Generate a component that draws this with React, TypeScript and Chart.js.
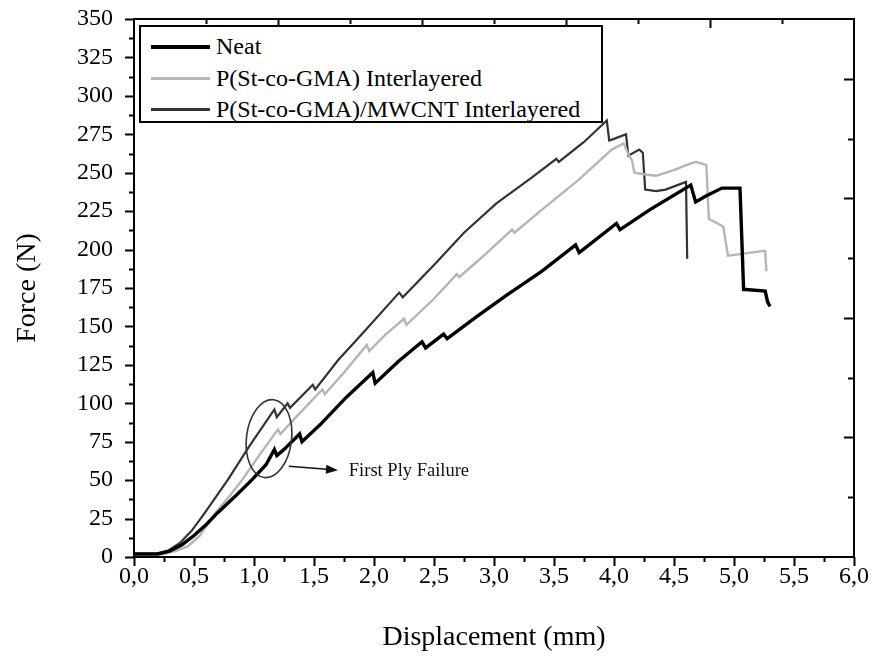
import React, { useEffect, useRef } from 'react';
import { Chart, registerables } from 'chart.js';

Chart.register(...registerables);

const FONT = "'Liberation Serif', 'Times New Roman', Times, serif";

// axes
const X_MIN = 0;
const X_MAX = 6;
const X_STEP = 0.5;
const Y_MIN = 0;
const Y_MAX = 350;
const Y_STEP = 25;
const TOP_DIVS = 10;
const RIGHT_DIVS = 9;

const X_TITLE = 'Displacement (mm)';
const Y_TITLE = 'Force (N)';

// series: Neat
const neatX = [0, 0.2, 0.3, 0.4, 0.5, 0.6, 0.7, 0.85, 0.98, 1.1, 1.17, 1.19, 1.25, 1.38, 1.4, 1.55, 1.77, 1.99, 2.01, 2.2, 2.4, 2.43, 2.58, 2.61, 2.85, 3.1, 3.4, 3.68, 3.71, 4.02, 4.05, 4.3, 4.64, 4.68, 4.77, 4.9, 5.05, 5.08, 5.1, 5.26, 5.28, 5.3];
const neatY = [2, 2, 4, 8, 14, 21, 29, 40, 50, 60, 70, 66, 70, 80, 75, 86, 104, 120, 113, 127, 140, 136, 145, 142, 156, 170, 186, 203, 198, 217, 213, 226, 242, 231, 235, 240, 240, 174, 174, 173, 166, 163];

// series: P(St-co-GMA)
const pstX = [0, 0.25, 0.35, 0.45, 0.55, 0.67, 0.8, 0.9, 1.07, 1.2, 1.22, 1.35, 1.57, 1.59, 1.75, 1.94, 1.96, 2.1, 2.25, 2.27, 2.5, 2.69, 2.71, 2.9, 3.15, 3.17, 3.4, 3.7, 3.98, 4.08, 4.12, 4.15, 4.17, 4.25, 4.35, 4.51, 4.6, 4.68, 4.73, 4.77, 4.79, 4.91, 4.95, 5.05, 5.14, 5.23, 5.26, 5.27];
const pstY = [2, 2, 4, 7, 14, 28, 40, 50, 69, 83, 80, 91, 109, 106, 120, 138, 134, 145, 155, 151, 168, 184, 182, 195, 213, 211, 226, 245, 265, 269, 262, 258, 250, 249, 248, 252, 255, 257, 256, 255, 220, 215, 196, 197, 198, 199, 199, 186];

// series: P(St-co-GMA)/MWCNT
const mwX = [0, 0.18, 0.28, 0.38, 0.48, 0.59, 0.78, 0.96, 1.17, 1.19, 1.28, 1.3, 1.49, 1.51, 1.7, 1.9, 2.21, 2.24, 2.5, 2.75, 3.02, 3.3, 3.52, 3.54, 3.75, 3.94, 3.96, 4.0, 4.1, 4.12, 4.21, 4.24, 4.26, 4.35, 4.43, 4.6, 4.61];
const mwY = [2, 2, 4, 9, 17, 28.7, 50, 72, 96, 91, 100, 97, 112, 109, 128, 145, 172, 169, 190, 211, 230, 246, 259, 257, 270, 284, 271, 272, 275, 261, 265, 263, 239, 238, 239, 244, 194];

const SERIES_LABELS = ['Neat', 'P(St-co-GMA) Interlayered', 'P(St-co-GMA)/MWCNT Interlayered'];
const SERIES_COLORS = ['#000000', '#b5b5b5', '#333333'];
const SERIES_WIDTHS = [3.4, 2.4, 2.2];
const SERIES_X = [neatX, pstX, mwX];
const SERIES_Y = [neatY, pstY, mwY];

// annotation (data units)
const ELLIPSE_CENTER = [1.125, 77];
const ELLIPSE_RADII = [0.188, 25.5];
const ARROW_FROM = [1.29, 59];
const ARROW_TO = [1.7, 56.5];
const NOTE_AT = [1.79, 56];
const NOTE_TEXT = 'First Ply Failure';

const fmtX = (v: number) => v.toFixed(1).replace('.', ',');

const framePlugin = {
  id: 'frameAndNotes',
  afterDraw(chart: any) {
    const { ctx, chartArea: a, scales } = chart;
    const xs = scales.x;
    const ys = scales.y;
    ctx.save();
    ctx.strokeStyle = '#000';
    ctx.lineWidth = 2;
    ctx.strokeRect(a.left, a.top, a.right - a.left, a.bottom - a.top);

    const xt = xs.ticks.map((t: any) => t.value);
    const yt = ys.ticks.map((t: any) => t.value);
    ctx.beginPath();
    // bottom major + minor (outward)
    xt.forEach((v: number, i: number) => {
      const px = Math.round(xs.getPixelForValue(v)) + 0.5;
      ctx.moveTo(px, a.bottom);
      ctx.lineTo(px, a.bottom + 9);
      if (i < xt.length - 1) {
        const mx = Math.round(xs.getPixelForValue((v + xt[i + 1]) / 2)) + 0.5;
        ctx.moveTo(mx, a.bottom);
        ctx.lineTo(mx, a.bottom + 5);
      }
    });
    // left major + minor (outward)
    yt.forEach((v: number, i: number) => {
      const py = Math.round(ys.getPixelForValue(v)) + 0.5;
      ctx.moveTo(a.left, py);
      ctx.lineTo(a.left - 9, py);
      if (i < yt.length - 1) {
        const my = Math.round(ys.getPixelForValue((v + yt[i + 1]) / 2)) + 0.5;
        ctx.moveTo(a.left, my);
        ctx.lineTo(a.left - 5, my);
      }
    });
    // top inward ticks
    for (let i = 1; i < TOP_DIVS; i++) {
      const px = Math.round(xs.getPixelForValue(xs.min + ((xs.max - xs.min) * i) / TOP_DIVS)) + 0.5;
      ctx.moveTo(px, a.top);
      ctx.lineTo(px, a.top + (i % 2 === 0 ? 9 : 5));
    }
    // right inward ticks
    for (let i = 1; i < RIGHT_DIVS; i++) {
      const py = Math.round(ys.getPixelForValue(ys.min + ((ys.max - ys.min) * i) / RIGHT_DIVS)) + 0.5;
      ctx.moveTo(a.right, py);
      ctx.lineTo(a.right - (i % 2 === 0 ? 10 : 6), py);
    }
    ctx.stroke();

    // annotation: ellipse
    const cx = xs.getPixelForValue(ELLIPSE_CENTER[0]);
    const cy = ys.getPixelForValue(ELLIPSE_CENTER[1]);
    const rx = Math.abs(xs.getPixelForValue(ELLIPSE_CENTER[0] + ELLIPSE_RADII[0]) - cx);
    const ry = Math.abs(ys.getPixelForValue(ELLIPSE_CENTER[1] + ELLIPSE_RADII[1]) - cy);
    ctx.strokeStyle = '#333';
    ctx.lineWidth = 1.6;
    ctx.beginPath();
    ctx.ellipse(cx, cy, rx, ry, 0.12, 0, Math.PI * 2);
    ctx.stroke();

    // arrow
    const x1 = xs.getPixelForValue(ARROW_FROM[0]);
    const y1 = ys.getPixelForValue(ARROW_FROM[1]);
    const x2 = xs.getPixelForValue(ARROW_TO[0]);
    const y2 = ys.getPixelForValue(ARROW_TO[1]);
    const ang = Math.atan2(y2 - y1, x2 - x1);
    ctx.strokeStyle = '#111';
    ctx.lineWidth = 1.6;
    ctx.beginPath();
    ctx.moveTo(x1, y1);
    ctx.lineTo(x2 - 8 * Math.cos(ang), y2 - 8 * Math.sin(ang));
    ctx.stroke();
    ctx.fillStyle = '#111';
    ctx.beginPath();
    ctx.moveTo(x2, y2);
    ctx.lineTo(x2 - 12 * Math.cos(ang) + 4.5 * Math.sin(ang), y2 - 12 * Math.sin(ang) - 4.5 * Math.cos(ang));
    ctx.lineTo(x2 - 12 * Math.cos(ang) - 4.5 * Math.sin(ang), y2 - 12 * Math.sin(ang) + 4.5 * Math.cos(ang));
    ctx.closePath();
    ctx.fill();

    // note text
    ctx.font = `18.5px ${FONT}`;
    ctx.textBaseline = 'middle';
    ctx.textAlign = 'left';
    ctx.fillText(NOTE_TEXT, xs.getPixelForValue(NOTE_AT[0]), ys.getPixelForValue(NOTE_AT[1]));
    ctx.restore();
  },
};

export default function App() {
  const ref = useRef<HTMLCanvasElement | null>(null);

  useEffect(() => {
    if (!ref.current) return;
    const datasets = SERIES_LABELS.map((label, i) => ({
      label,
      data: SERIES_X[i].map((x, j) => ({ x, y: SERIES_Y[i][j] })),
      borderColor: SERIES_COLORS[i],
      backgroundColor: SERIES_COLORS[i],
      borderWidth: SERIES_WIDTHS[i],
      pointRadius: 0,
      tension: 0,
      fill: false,
      borderJoinStyle: 'miter' as const,
    }));
    const chart = new Chart(ref.current, {
      type: 'line',
      data: { datasets },
      options: {
        animation: false,
        responsive: false,
        devicePixelRatio: 1,
        layout: { padding: { left: 0, top: 19, right: 17, bottom: 0 } },
        plugins: { legend: { display: false }, tooltip: { enabled: false } },
        scales: {
          x: {
            type: 'linear',
            min: X_MIN,
            max: X_MAX,
            grid: { display: false, drawTicks: false },
            border: { display: false },
            ticks: {
              stepSize: X_STEP,
              color: '#000',
              font: { family: FONT, size: 24 },
              padding: 5,
              maxRotation: 0,
              autoSkip: false,
              callback: (v: any) => fmtX(Number(v)),
            },
            title: {
              display: true,
              text: X_TITLE,
              color: '#000',
              font: { family: FONT, size: 28 },
              padding: { top: 0, bottom: 4 },
            },
            afterFit: (s: any) => {
              s.height = 101;
              s.paddingLeft = 0;
              s.paddingRight = 0;
            },
          },
          y: {
            type: 'linear',
            min: Y_MIN,
            max: Y_MAX,
            grid: { display: false, drawTicks: false },
            border: { display: false },
            ticks: {
              stepSize: Y_STEP,
              color: '#000',
              font: { family: FONT, size: 24 },
              padding: 21,
              autoSkip: false,
            },
            title: {
              display: true,
              text: Y_TITLE,
              color: '#000',
              font: { family: FONT, size: 28 },
              padding: { top: 11, bottom: 0 },
            },
            afterFit: (s: any) => {
              s.width = 134;
              s.paddingTop = 0;
              s.paddingBottom = 0;
            },
          },
        },
      },
      plugins: [framePlugin],
    });
    return () => chart.destroy();
  }, []);

  return (
    <div style={{ position: 'fixed', left: 0, top: 0, width: 871, height: 658, background: '#fff', overflow: 'hidden' }}>
      <canvas ref={ref} width={871} height={658} style={{ width: 871, height: 658, display: 'block' }} />
      <div
        style={{
          position: 'absolute',
          left: 139,
          top: 25,
          width: 464,
          height: 98,
          boxSizing: 'border-box',
          border: '2px solid #000',
          background: '#fff',
          fontFamily: FONT,
          fontSize: 24,
          color: '#000',
          paddingTop: 4,
        }}
      >
        {SERIES_LABELS.map((label, i) => (
          <div key={label} style={{ display: 'flex', alignItems: 'center', height: 31.5, whiteSpace: 'nowrap' }}>
            <span
              style={{
                display: 'inline-block',
                width: 59,
                height: 0,
                borderTop: `${i === 0 ? 4 : 3}px solid ${SERIES_COLORS[i]}`,
                marginLeft: 10,
                marginRight: 6,
              }}
            />
            <span>{label}</span>
          </div>
        ))}
      </div>
    </div>
  );
}
